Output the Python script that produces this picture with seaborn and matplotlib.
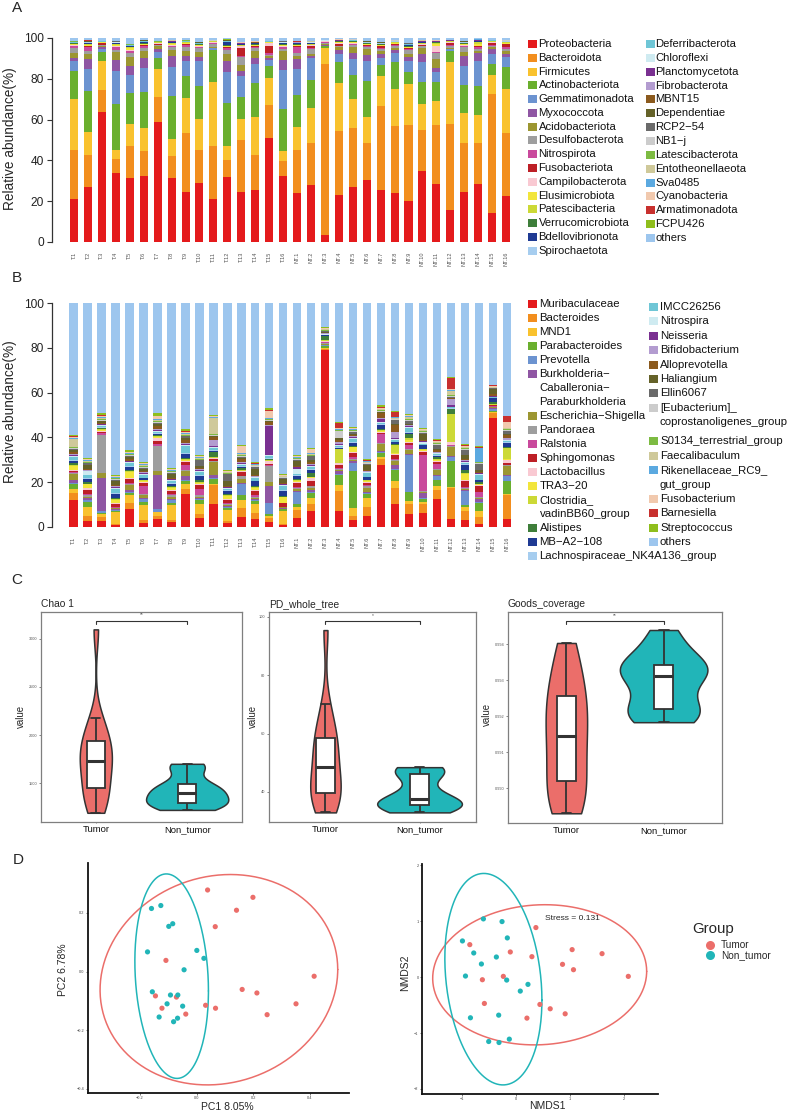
import numpy as np
import pandas as pd
import matplotlib
matplotlib.use("Agg")
import matplotlib.pyplot as plt
import seaborn as sns
from matplotlib.patches import Rectangle
from matplotlib.lines import Line2D

# ====================== DATA ======================
samples = ["T.1", "T.2", "T.3", "T.4", "T.5", "T.6", "T.7", "T.8", "T.9", "T.10", "T.11", "T.12",
           "T.13", "T.14", "T.15", "T.16", "NT.1", "NT.2", "NT.3", "NT.4", "NT.5", "NT.6", "NT.7",
           "NT.8", "NT.9", "NT.10", "NT.11", "NT.12", "NT.13", "NT.14", "NT.15", "NT.16"]

taxa_colors = ["#E41A1C", "#F28E1E", "#F9C22E", "#6AAF2E", "#6C93D0", "#8F56A3", "#9C9631", "#9E9E9E",
               "#C9499C", "#BD1F26", "#F9C9D2", "#F2E53C", "#CCD936", "#3E7E3A", "#1F3A93", "#A6CDEF",
               "#6FC6D6", "#CFEBF1", "#7A3091", "#B39CD0", "#8B5A1E", "#656229", "#6A6A6A", "#CCCCCC",
               "#7DBB42", "#CFC99A", "#5BA9E0", "#F1C9AE", "#C8302E", "#8FBE1C", "#9DC6EE"]

# ---- Panel A: phylum level (%) ----
phylum_labels = ["Proteobacteria", "Bacteroidota", "Firmicutes", "Actinobacteriota", "Gemmatimonadota",
                 "Myxococcota", "Acidobacteriota", "Desulfobacterota", "Nitrospirota", "Fusobacteriota",
                 "Campilobacterota", "Elusimicrobiota", "Patescibacteria", "Verrucomicrobiota",
                 "Bdellovibrionota", "Spirochaetota", "Deferribacterota", "Chloroflexi", "Planctomycetota",
                 "Fibrobacterota", "MBNT15", "Dependentiae", "RCP2\u221254", "NB1\u2212j", "Latescibacterota",
                 "Entotheonellaeota", "Sva0485", "Cyanobacteria", "Armatimonadota", "FCPU426", "others"]

proteobacteria = [21, 27, 63.5, 34, 31.5, 32.5, 59, 31.5, 24.5, 29, 21, 32, 24.5, 25.5, 51, 32.5,
                  24, 28, 3.5, 23, 27, 30.5, 25.5, 24, 20, 35, 28.5, 15.5, 24.5, 28.5, 14, 22.5]
bacteroidota = [24, 15.5, 11, 6.5, 15.5, 12, 12, 10.5, 29, 16, 26, 8, 25.5, 17, 16, 7,
                21, 20.5, 84, 31.5, 29, 18, 41, 33, 37.5, 20, 29, 42.5, 24, 20, 58.5, 31]
firmicutes = [25, 11.5, 14, 4.5, 11, 11.5, 14, 8.5, 17, 15.5, 31.5, 7, 10.5, 19, 13.5, 5,
              11.5, 17, 7.5, 23.5, 14, 13, 15, 18, 20, 12.5, 11.5, 30, 14.5, 14, 9.5, 21.5]
actinobacteriota = [14, 20, 4.5, 22.5, 15, 17.5, 5, 21, 11, 16, 15.5, 21, 10.5, 16.5, 6, 20.5,
                    15.5, 14, 1, 10, 12, 17.5, 5.5, 13, 6, 11, 9.5, 5.5, 14, 14, 5.5, 11]
gemmatimonadota = [4.5, 11, 1.5, 16.5, 9, 12, 3, 14.5, 7, 12, 1, 15.5, 10.5, 9.5, 2.5, 19.5,
                   13, 10.5, 0.3, 4, 7.5, 9.5, 3, 4.5, 5, 9.5, 5, 1, 9.5, 12, 4.5, 4.5]
myxococcota = [1.5, 4.5, 1, 5, 4.5, 4.5, 1.5, 5, 2.5, 2, 0.3, 5, 2.5, 2.5, 1, 4.5,
               4.5, 1, 0.3, 2, 3, 3, 2, 1.5, 2, 4, 2, 0.3, 4.5, 4, 2.5, 1.5]
acidobacteriota = [2.5, 2.5, 0.5, 4, 4, 3.5, 1.5, 3, 2.5, 2.5, 0.3, 3.5, 3, 3.5, 1, 4.5,
                   1.5, 1, 0.5, 1.5, 3, 3, 1.5, 1, 1.5, 3, 4, 0.5, 2, 1, 1, 1.5]
desulfobacterota = [2.5, 1.5, 0.5, 1, 2, 1.5, 0.5, 1.5, 2, 2, 1.5, 2, 3.5, 1.5, 0.5, 1,
                    1.5, 2.5, 0.5, 0.5, 1, 1, 1, 1, 2, 1, 3, 1, 2.5, 1, 0.5, 1]
nitrospirota = [1, 2, 0.3, 1.5, 1, 1, 0.3, 0.5, 1, 0.5, 0.3, 1, 0.5, 0.5, 1, 1,
                3, 0.7, 0.3, 0.3, 0.5, 0.5, 0.5, 0.5, 0.7, 0.3, 0.5, 0.3, 0.5, 1, 0.5, 1]
fusobacteriota = [0.3, 0.5, 0.7, 0.3, 0.3, 0.5, 0.5, 0.3, 0.5, 0.3, 0.3, 0.5, 4, 0.5, 3.5, 0.3,
                  0.5, 1, 0.2, 1, 0.3, 0.5, 1, 0.5, 0.3, 0.3, 0.3, 1, 0.3, 0.5, 1, 1.5]
campilobacterota = [0.3, 0.3, 0.2, 0.3, 0.3, 0.3, 0.2, 0.3, 0.3, 0.3, 0.3, 0.3, 1, 0.3, 1.5, 0.3,
                    0.3, 0.3, 0.2, 0.3, 0.3, 0.3, 0.3, 0.3, 0.3, 0.3, 3, 0.3, 0.3, 0.3, 0.3, 0.3]
elusimicrobiota = [0.3, 0.5, 0.2, 0.5, 1, 0.3, 0.2, 0.5, 0.3, 0.3, 0.2, 0.3, 0.3, 0.3, 0.3, 0.3,
                   0.3, 0.3, 0.1, 0.3, 0.3, 0.3, 0.3, 0.3, 0.3, 0.3, 1, 0.3, 0.3, 1, 0.3, 0.3]
patescibacteria = [0.2, 0.3, 0.1, 0.3, 0.3, 0.2, 0.1, 0.3, 0.2, 0.2, 0.1, 0.2, 0.2, 0.2, 0.2, 0.3,
                   0.2, 0.2, 0.1, 0.2, 0.2, 0.2, 0.2, 0.2, 0.2, 0.2, 0.3, 0.2, 0.2, 0.5, 0.2, 0.2]
verrucomicrobiota = [0.3, 0.2, 0.1, 0.3, 0.2, 0.3, 0.1, 0.3, 0.2, 0.3, 0.1, 0.3, 0.2, 0.3, 0.1, 0.3,
                     0.3, 0.3, 0.1, 0.2, 0.3, 0.2, 0.3, 0.2, 0.3, 0.3, 0.2, 0.1, 0.3, 0.3, 0.2, 0.2]
bdellovibrionota = [0.2, 0.3, 0.1, 0.3, 0.5, 0.5, 0.1, 0.3, 0.2, 0.3, 0.1, 1.5, 0.3, 0.3, 0.1, 0.5,
                    0.3, 0.2, 0.1, 0.2, 0.2, 0.2, 0.2, 0.2, 0.5, 0.3, 0.2, 0.1, 0.3, 0.3, 0.2, 0.2]
spirochaetota = [0.1, 0.2, 0.05, 0.1, 0.1, 0.15, 0.05, 0.1, 0.05, 0.1, 0.05, 0.1, 0.1, 0.1, 0.05, 0.15,
                 0.1, 0.1, 0.05, 0.1, 0.1, 0.1, 0.15, 0.1, 0.1, 0.1, 0.1, 0.05, 0.1, 0.1, 0.05, 0.1]
deferribacterota = [0.1, 0.1, 0.05, 0.1, 0.15, 0.1, 0.05, 0.1, 0.1, 0.1, 0.05, 0.2, 0.1, 0.1, 0.05, 0.1,
                    0.1, 0.15, 0.02, 0.1, 0.1, 0.1, 0.1, 0.1, 0.2, 0.1, 0.1, 0.05, 0.1, 0.15, 0.05, 0.1]
chloroflexi = [0.05, 0.1, 0.03, 0.1, 0.05, 0.1, 0.03, 0.05, 0.05, 0.1, 0.03, 0.1, 0.05, 0.05, 0.03, 0.1,
               0.05, 0.1, 0.02, 0.05, 0.05, 0.1, 0.05, 0.05, 0.1, 0.05, 0.05, 0.03, 0.05, 0.1, 0.03, 0.05]
planctomycetota = [0.1, 0.1, 0.05, 0.15, 0.1, 0.1, 0.05, 0.1, 0.1, 0.1, 0.05, 0.1, 0.1, 0.1, 0.05, 0.15,
                   0.1, 0.1, 0.02, 0.1, 0.1, 0.1, 0.1, 0.1, 0.1, 0.1, 0.1, 0.05, 0.1, 0.1, 0.05, 0.1]
fibrobacterota = [0.05, 0.04, 0.02, 0.05, 0.06, 0.05, 0.02, 0.05, 0.04, 0.05, 0.02, 0.06, 0.05, 0.04, 0.02, 0.05,
                  0.05, 0.04, 0.02, 0.05, 0.06, 0.05, 0.04, 0.05, 0.05, 0.06, 0.05, 0.02, 0.05, 0.04, 0.02, 0.05]
mbnt15 = [0.05, 0.1, 0.02, 0.1, 0.05, 0.1, 0.02, 0.1, 0.05, 0.05, 0.02, 0.1, 0.05, 0.1, 0.02, 0.1,
          0.05, 0.05, 0.02, 0.05, 0.05, 0.1, 0.05, 0.05, 0.05, 0.1, 0.05, 0.02, 0.1, 0.05, 0.02, 0.05]
dependentiae = [0.1, 0.15, 0.02, 0.1, 0.1, 0.1, 0.02, 0.1, 0.05, 0.1, 0.02, 0.1, 0.1, 0.1, 0.02, 0.1,
                0.1, 0.05, 0.02, 0.05, 0.1, 0.05, 0.05, 0.05, 0.1, 0.1, 0.05, 0.02, 0.1, 0.1, 0.02, 0.05]
rcp2_54 = [0.05, 0.06, 0.02, 0.1, 0.05, 0.04, 0.02, 0.05, 0.06, 0.05, 0.02, 0.05, 0.04, 0.05, 0.02, 0.06,
           0.05, 0.04, 0.02, 0.05, 0.06, 0.05, 0.04, 0.05, 0.05, 0.04, 0.06, 0.02, 0.05, 0.05, 0.02, 0.04]
nb1_j = [0.04, 0.05, 0.02, 0.05, 0.04, 0.05, 0.02, 0.06, 0.05, 0.04, 0.02, 0.05, 0.05, 0.04, 0.02, 0.05,
         0.06, 0.05, 0.02, 0.04, 0.05, 0.05, 0.06, 0.04, 0.05, 0.05, 0.04, 0.02, 0.05, 0.06, 0.02, 0.05]
latescibacterota = [0.05, 0.08, 0.02, 0.06, 0.05, 0.07, 0.02, 0.06, 0.05, 0.05, 0.02, 0.08, 0.05, 0.06, 0.02, 0.07,
                    0.05, 0.06, 0.02, 0.05, 0.05, 0.06, 0.05, 0.05, 0.06, 0.05, 0.05, 0.02, 0.06, 0.05, 0.02, 0.05]
entotheonellaeota = [0.04, 0.05, 0.02, 0.05, 0.04, 0.05, 0.02, 0.05, 0.04, 0.05, 0.02, 0.05, 0.04, 0.05, 0.02, 0.05,
                     0.04, 0.05, 0.02, 0.04, 0.05, 0.04, 0.05, 0.04, 0.05, 0.04, 0.05, 0.02, 0.04, 0.05, 0.02, 0.04]
sva0485 = [0.05, 0.06, 0.02, 0.05, 0.08, 0.05, 0.02, 0.06, 0.05, 0.05, 0.02, 0.06, 0.05, 0.05, 0.02, 0.06,
           0.05, 0.05, 0.02, 0.05, 0.05, 0.06, 0.05, 0.05, 0.06, 0.05, 0.05, 0.02, 0.05, 0.06, 0.02, 0.05]
cyanobacteria = [0.05, 0.04, 0.03, 0.05, 0.05, 0.06, 0.03, 0.05, 0.05, 0.04, 0.03, 0.05, 0.08, 0.05, 0.1, 0.05,
                 0.05, 0.05, 0.02, 0.05, 0.04, 0.05, 0.05, 0.05, 0.04, 0.05, 0.1, 0.03, 0.05, 0.05, 0.03, 0.05]
armatimonadota = [0.04, 0.05, 0.02, 0.04, 0.05, 0.04, 0.02, 0.05, 0.04, 0.05, 0.02, 0.04, 0.05, 0.04, 0.02, 0.05,
                  0.04, 0.05, 0.02, 0.04, 0.05, 0.04, 0.05, 0.04, 0.05, 0.04, 0.05, 0.02, 0.04, 0.05, 0.02, 0.04]
fcpu426 = [0.05, 0.06, 0.02, 0.05, 0.06, 0.05, 0.02, 0.05, 0.05, 0.06, 0.02, 0.05, 0.05, 0.06, 0.02, 0.05,
           0.05, 0.06, 0.02, 0.05, 0.05, 0.06, 0.05, 0.05, 0.06, 0.05, 0.05, 0.02, 0.05, 0.06, 0.02, 0.05]

# ---- Panel B: genus level (%) ----
genus_labels = ["Muribaculaceae", "Bacteroides", "MND1", "Parabacteroides", "Prevotella",
                "Burkholderia\u2212\nCaballeronia\u2212\nParaburkholderia", "Escherichia\u2212Shigella",
                "Pandoraea", "Ralstonia", "Sphingomonas", "Lactobacillus", "TRA3\u221220",
                "Clostridia_\nvadinBB60_group", "Alistipes", "MB\u2212A2\u2212108",
                "Lachnospiraceae_NK4A136_group", "IMCC26256", "Nitrospira", "Neisseria", "Bifidobacterium",
                "Alloprevotella", "Haliangium", "Ellin6067", "[Eubacterium]_\ncoprostanoligenes_group",
                "S0134_terrestrial_group", "Faecalibaculum", "Rikenellaceae_RC9_\ngut_group",
                "Fusobacterium", "Barnesiella", "Streptococcus", "others"]

muribaculaceae = [12, 2.5, 2.5, 0.8, 8, 1.5, 3.5, 2, 14.5, 4, 10, 1.5, 4.5, 3.5, 2, 0.7,
                  4, 7, 79, 7, 3, 5, 27.5, 10, 5.5, 6, 12.5, 3.5, 3, 1, 48.5, 3.5]
bacteroides = [3, 2.5, 2, 0.5, 2.5, 1.5, 1.5, 1, 2.5, 1.5, 8.5, 1, 4, 2.5, 2, 0.5,
               3.5, 3, 0.5, 9, 2, 4, 3, 7.5, 4.5, 4, 4, 14, 4, 3.5, 2.5, 10.5]
mnd1 = [1.7, 4, 1, 5.5, 3.5, 6.5, 1.5, 6.5, 2, 4.5, 0.5, 5, 3.5, 4, 1, 6,
        1.5, 3, 0.5, 2.5, 3.5, 4, 0.5, 3, 1.5, 1, 1.5, 0.3, 2, 2.5, 0.5, 0.5]
parabacteroides = [2.5, 2, 0.5, 0.3, 1, 1.5, 0.3, 1, 1.5, 2, 2.5, 1, 2, 1.5, 0.5, 0.5,
                   1, 2, 1, 4.5, 16.5, 1.5, 2, 5, 4, 1.5, 3, 11.5, 0.5, 3.5, 0.5, 6]
prevotella = [0.5, 1, 1, 0.3, 0.5, 1.5, 1, 1.5, 0.5, 0.5, 0.3, 0.5, 5, 0.5, 5, 0.3,
              5.5, 0.5, 0.3, 0.5, 3.5, 0.5, 0.5, 0.5, 16.5, 0.5, 1.5, 2, 6.5, 0.5, 0.5, 2]
burkholderia = [1, 1, 15, 0.3, 1, 0.5, 15.5, 0.5, 1.5, 0.5, 1.5, 0.3, 0.5, 0.5, 7.5, 0.3,
                0.3, 1, 0.2, 1.5, 1, 0.5, 0.5, 1.5, 0.5, 2, 0.5, 0.3, 0.5, 1.5, 0.5, 0.5]
escherichia = [3, 0.5, 2, 0.5, 2, 1, 1.5, 1, 2.5, 0.5, 5.5, 0.5, 2, 0.5, 2, 0.3,
               1, 1, 0.3, 0.5, 0.5, 2, 3, 2, 2, 0.5, 2.5, 4, 0.5, 0.5, 0.5, 4]
pandoraea = [0.5, 0.5, 17, 0.3, 0.5, 0.5, 11.5, 0.5, 0.5, 0.5, 0.5, 0.5, 1, 0.5, 7, 0.2,
             0.5, 0.5, 0.5, 0.5, 0.5, 0.5, 0.5, 0.5, 0.5, 0.5, 0.5, 0.5, 0.5, 0.5, 0.3, 0.5]
ralstonia = [0.3, 0.5, 1, 0.3, 0.5, 3.5, 0.5, 0.5, 2, 3, 0.3, 0.3, 0.3, 0.5, 0.7, 0.2,
             0.3, 0.3, 0.2, 0.3, 0.5, 0.5, 4, 0.5, 1.5, 16, 2, 0.3, 0.3, 2, 0.2, 0.3]
sphingomonas = [0.5, 2, 0.5, 1.5, 2, 1.5, 1.5, 1.5, 1.5, 1.5, 0.5, 1.5, 1.5, 2, 0.5, 1.5,
                2, 2, 0.3, 1.5, 2, 1, 0.5, 1.5, 1, 1.5, 1, 0.3, 2.5, 2.5, 0.3, 0.5]
lactobacillus = [0.5, 1, 0.5, 0.3, 0.5, 0.5, 1.5, 0.3, 0.5, 0.5, 0.5, 0.3, 0.5, 0.5, 1, 0.2,
                 0.5, 1.5, 0.2, 0.5, 0.5, 0.5, 0.5, 0.5, 0.5, 0.5, 0.5, 1, 0.5, 0.5, 0.2, 1.5]
tra3_20 = [1.5, 1.5, 0.5, 1.5, 2.5, 0.5, 0.5, 1, 0.5, 0.5, 0.3, 1.5, 0.3, 1, 0.3, 2.5,
           0.3, 0.3, 0.2, 0.3, 2, 0.5, 0.3, 0.5, 1, 0.3, 0.3, 0.3, 3, 0.5, 0.2, 0.3]
clostridia = [0.5, 0.3, 0.3, 0.3, 0.5, 0.3, 0.3, 0.3, 0.3, 0.3, 0.5, 0.3, 0.3, 0.3, 0.3, 0.2,
              0.3, 0.3, 0.2, 6, 0.3, 0.3, 0.3, 3.5, 0.5, 0.3, 0.3, 12.5, 0.3, 0.3, 0.2, 5]
alistipes = [1, 0.5, 0.3, 0.3, 0.5, 0.3, 0.5, 0.5, 0.3, 1, 2, 0.5, 1, 0.5, 0.3, 0.2,
             0.5, 1.5, 2, 0.3, 0.3, 0.3, 0.5, 0.3, 2, 0.3, 1, 2, 1.5, 0.5, 1, 0.5]
mb_a2_108 = [1, 1.5, 0.3, 2, 1, 0.5, 0.5, 1, 2, 2, 0.5, 1.5, 0.5, 2, 0.3, 2.5,
             1.5, 1.5, 0.2, 0.3, 1.5, 1, 2, 1, 0.5, 1.5, 0.5, 0.3, 2, 1, 1.5, 2]
lachnospiraceae = [0.5, 0.5, 0.3, 0.3, 0.5, 0.2, 0.3, 0.3, 0.3, 0.3, 0.3, 0.3, 0.3, 0.3, 0.3, 0.2,
                   0.3, 0.3, 0.2, 0.3, 0.3, 0.3, 0.3, 0.3, 0.3, 0.3, 0.3, 0.3, 0.3, 0.3, 0.2, 0.3]
imcc26256 = [1, 1.5, 0.5, 2, 1.5, 1.5, 0.5, 1, 3, 1.5, 1, 0.5, 0.5, 1, 1, 2,
             0.5, 1, 0.2, 0.5, 1.5, 1.5, 0.5, 0.5, 2, 0.5, 0.5, 0.3, 0.5, 2, 0.3, 0.5]
nitrospira = [0.5, 1.5, 0.3, 0.5, 0.5, 0.5, 0.5, 0.5, 0.5, 0.5, 0.5, 0.3, 0.5, 0.5, 0.3, 0.5,
              2.5, 0.5, 0.2, 0.5, 0.5, 0.5, 0.5, 0.5, 0.5, 0.5, 0.5, 0.3, 0.5, 0.5, 0.2, 0.3]
neisseria = [0.5, 0.3, 0.3, 0.3, 0.3, 0.3, 0.5, 0.3, 0.5, 0.3, 0.3, 0.3, 0.3, 0.3, 13, 0.2,
             0.5, 0.5, 0.2, 0.5, 0.3, 0.3, 1.5, 0.5, 0.3, 0.5, 0.3, 1, 0.5, 0.3, 0.3, 0.3]
bifidobacterium = [0.5, 0.3, 0.3, 0.3, 0.3, 0.3, 0.5, 0.3, 0.5, 0.3, 3, 0.3, 0.3, 0.3, 0.3, 0.2,
                   0.3, 0.3, 0.2, 1, 0.3, 0.3, 0.3, 3, 0.3, 0.3, 0.3, 2.5, 0.3, 0.3, 0.2, 0.5]
alloprevotella = [1, 0.5, 0.5, 0.5, 0.5, 0.5, 1, 0.5, 1.5, 0.5, 1, 0.5, 1.5, 0.5, 1.5, 0.3,
                  0.5, 1, 0.3, 1, 0.5, 0.5, 2, 3, 0.3, 0.5, 1, 0.3, 0.5, 0.5, 1, 1.5]
haliangium = [1, 1.5, 0.5, 2, 1, 1, 1, 1.5, 1, 1, 0.5, 2, 0.5, 2.5, 0.3, 2,
              2, 1, 0.3, 0.5, 0.5, 2, 0.5, 0.5, 0.3, 2.5, 0.5, 0.3, 2, 0.5, 2, 0.5]
ellin6067 = [0.3, 1, 0.3, 0.5, 0.5, 0.5, 0.5, 0.5, 0.5, 2.5, 0.3, 3, 0.5, 1, 0.3, 0.5,
             0.5, 1.5, 0.3, 0.3, 1, 0.5, 0.3, 1.5, 1.5, 0.5, 1.5, 0.3, 2, 3, 0.3, 1.5]
eubacterium = [0.5, 0.3, 0.3, 0.3, 0.3, 0.3, 0.5, 0.3, 0.3, 0.3, 0.3, 0.3, 0.5, 0.3, 0.3, 0.2,
               0.5, 0.3, 0.2, 3, 0.3, 0.3, 0.3, 0.5, 0.3, 0.5, 0.5, 0.5, 0.5, 0.3, 0.2, 0.5]
s0134 = [0.5, 0.3, 0.5, 0.3, 0.5, 0.5, 0.5, 0.5, 0.5, 0.5, 0.5, 0.3, 0.5, 0.3, 0.3, 0.2,
         0.3, 0.5, 0.2, 0.3, 0.3, 0.3, 0.5, 0.3, 0.5, 0.3, 0.5, 0.3, 0.5, 0.3, 0.2, 0.3]
faecalibaculum = [3.5, 0.3, 0.5, 0.3, 0.3, 0.3, 0.5, 0.3, 0.3, 0.3, 7, 0.3, 0.3, 0.3, 0.3, 0.2,
                  0.3, 0.3, 0.5, 0.3, 0.3, 0.3, 0.3, 0.3, 1, 0.3, 0.3, 2, 0.3, 0.3, 0.2, 0.3]
rikenellaceae = [0.5, 0.5, 0.5, 0.3, 0.3, 0.5, 0.5, 0.3, 0.5, 0.5, 0.5, 0.3, 0.3, 0.3, 0.3, 0.2,
                 0.3, 0.5, 0.2, 0.3, 0.3, 0.3, 0.3, 0.3, 0.3, 0.3, 0.3, 0.3, 0.3, 6, 0.2, 0.3]
fusobacterium = [0.5, 0.3, 0.3, 0.3, 0.3, 0.3, 1, 0.3, 0.5, 0.3, 0.3, 0.3, 3, 0.3, 3, 0.2,
                 0.3, 1.5, 0.2, 0.5, 0.3, 0.3, 0.3, 0.3, 0.3, 0.3, 0.3, 0.3, 0.3, 0.3, 0.2, 2.5]
barnesiella = [0.3, 0.2, 0.3, 0.2, 0.2, 0.2, 0.3, 0.2, 0.3, 0.2, 0.3, 0.2, 0.3, 0.2, 0.5, 0.2,
               0.2, 0.3, 0.2, 2, 0.2, 0.2, 0.3, 2, 0.3, 0.2, 0.3, 5, 0.3, 0.2, 0.5, 2.5]
streptococcus = [0.5, 0.5, 1, 0.5, 1, 0.5, 1, 0.5, 1, 0.5, 0.5, 0.5, 0.5, 0.5, 1, 0.3,
                 0.5, 0.5, 0.3, 0.5, 0.5, 0.5, 1, 0.3, 0.3, 0.5, 0.5, 0.5, 0.5, 0.5, 0.2, 0.3]

# ---- Panel C: alpha diversity ----
groups = ["Tumor", "Non_tumor"]
chao1_tumor = [1190, 1250, 1330, 1420, 1460, 1550, 1650, 1700, 1760, 1800, 1860, 1920, 1990, 2080, 2180, 3100]
chao1_non = [1220, 1240, 1260, 1280, 1300, 1320, 1350, 1380, 1410, 1430, 1460, 1470, 1530, 1650, 1680, 1700]
pd_tumor = [33, 35, 37, 39, 40, 41, 44, 47, 50, 53, 56, 58, 60, 64, 70, 95.5]
pd_non = [33, 34, 34.5, 35, 35.5, 36, 36.5, 37, 38, 39, 42, 46, 47, 47.5, 48, 48.5]
goods_tumor = [0.98930, 0.98945, 0.98965, 0.98990, 0.99030, 0.99060, 0.99100, 0.99130,
               0.99160, 0.99190, 0.99220, 0.99250, 0.99270, 0.99310, 0.99360, 0.99403]
goods_non = [0.99183, 0.99190, 0.99200, 0.99210, 0.99222, 0.99240, 0.99280, 0.99305,
             0.99315, 0.99325, 0.99335, 0.99340, 0.99350, 0.99370, 0.99410, 0.99439]

# ---- Panel D: ordinations ----
pc1_tumor = [0.039, 0.199, 0.141, 0.066, -0.108, 0.415, 0.161, 0.213, -0.145, -0.071, 0.032, 0.067, -0.122, -0.038, 0.351, 0.249]
pc2_tumor = [0.278, 0.253, 0.209, 0.153, 0.038, -0.016, -0.061, -0.073, -0.083, -0.087, -0.115, -0.125, -0.125, -0.145, -0.110, -0.147]
pc1_non = [-0.159, -0.126, -0.098, -0.084, -0.173, 0.001, 0.026, -0.044, -0.156, -0.092, -0.066, -0.104, -0.049, -0.132, -0.067, -0.081]
pc2_non = [0.215, 0.225, 0.154, 0.163, 0.067, 0.072, 0.045, 0.006, -0.069, -0.080, -0.080, -0.110, -0.118, -0.155, -0.159, -0.171]
nmds1_tumor = [0.369, -0.855, -0.105, 0.295, 1.040, 1.594, 0.862, 1.065, 2.080, -0.234, -0.622, -0.585, 0.443, 0.634, 0.911, 0.203]
nmds2_tumor = [0.884, 0.579, 0.448, 0.364, 0.490, 0.418, 0.227, 0.131, 0.012, 0.012, -0.048, -0.472, -0.490, -0.567, -0.657, -0.734]
nmds1_non = [-0.603, -0.258, -0.160, -0.991, -0.782, -0.363, -0.640, -0.935, -0.172, 0.222, 0.080, -0.843, -0.320, -0.123, -0.505, -0.314]
nmds2_non = [1.039, 0.991, 0.699, 0.645, 0.430, 0.358, 0.233, 0.018, -0.054, -0.131, -0.251, -0.728, -0.681, -1.110, -1.152, -1.170]
stress_value = 0.131
pc1_pct, pc2_pct = 8.05, 6.78

group_colors = {"Tumor": "#EB6E6A", "Non_tumor": "#21B5B8"}

# ====================== BUILD TABLES ======================
phylum_series = [proteobacteria, bacteroidota, firmicutes, actinobacteriota, gemmatimonadota, myxococcota,
                 acidobacteriota, desulfobacterota, nitrospirota, fusobacteriota, campilobacterota,
                 elusimicrobiota, patescibacteria, verrucomicrobiota, bdellovibrionota, spirochaetota,
                 deferribacterota, chloroflexi, planctomycetota, fibrobacterota, mbnt15, dependentiae,
                 rcp2_54, nb1_j, latescibacterota, entotheonellaeota, sva0485, cyanobacteria,
                 armatimonadota, fcpu426]
tabA = pd.DataFrame(dict(zip(phylum_labels[:-1], phylum_series)), index=samples)
tabA["others"] = (100 - tabA.sum(axis=1)).clip(lower=0)

genus_series = [muribaculaceae, bacteroides, mnd1, parabacteroides, prevotella, burkholderia, escherichia,
                pandoraea, ralstonia, sphingomonas, lactobacillus, tra3_20, clostridia, alistipes, mb_a2_108,
                lachnospiraceae, imcc26256, nitrospira, neisseria, bifidobacterium, alloprevotella,
                haliangium, ellin6067, eubacterium, s0134, faecalibaculum, rikenellaceae, fusobacterium,
                barnesiella, streptococcus]
tabB = pd.DataFrame(dict(zip(genus_labels[:-1], genus_series)), index=samples)
tabB["others"] = (100 - tabB.sum(axis=1)).clip(lower=0)

# ====================== FIGURE ======================
sns.set_theme(style="white")
plt.rcParams["font.family"] = ["Liberation Sans", "DejaVu Sans"]
plt.rcParams["axes.unicode_minus"] = True

W, H = 789, 1112
fig = plt.figure(figsize=(W / 100, H / 100), dpi=100)
fig.patch.set_facecolor("white")


def fx(x):
    return x / W


def fy(y):
    return 1 - y / H


def rect(l, t, r, b):
    return [fx(l), fy(b), (r - l) / W, (b - t) / H]


def stacked_panel(r, table, xlo, xhi, width):
    ax = fig.add_axes(r)
    x = np.arange(len(table.index))
    bottom = np.zeros(len(x))
    for col, c in zip(table.columns, taxa_colors):
        v = table[col].to_numpy(dtype=float)
        ax.bar(x, v, bottom=bottom, width=width, color=c, linewidth=0)
        bottom += v
    ax.set_xlim(xlo, xhi)
    ax.set_ylim(0, 100)
    for s in ["top", "right", "bottom"]:
        ax.spines[s].set_visible(False)
    ax.spines["left"].set_bounds(0, 100)
    ax.spines["left"].set_color("#333333")
    ax.spines["left"].set_linewidth(0.9)
    ax.set_yticks([0, 20, 40, 60, 80, 100])
    ax.tick_params(axis="y", left=True, length=3.6, width=0.8, labelsize=8.6, pad=2.4,
                   colors="#333333", labelcolor="#222222")
    ax.set_xticks(x)
    ax.set_xticklabels(table.index, rotation=90, fontsize=4, color="#555555")
    ax.tick_params(axis="x", length=0, pad=7)
    ax.set_facecolor("none")
    ax.grid(False)
    return ax


def draw_legend(labels, colors, split, sq_x, txt_x, y0, pitch, fs, gaps=None, sq_w=9, sq_h=8):
    gaps = gaps or {}
    cols = [list(zip(labels[:split], colors[:split])), list(zip(labels[split:], colors[split:]))]
    for c, entries in enumerate(cols):
        y = y0[c]
        for lab, col in entries:
            fig.add_artist(Rectangle((fx(sq_x[c]), fy(y + sq_h / 2)), sq_w / W, sq_h / H,
                                     transform=fig.transFigure, facecolor=col, edgecolor="none"))
            lines = lab.split("\n")
            for k, ln in enumerate(lines):
                fig.text(fx(txt_x[c]), fy(y + k * pitch[c]), ln, ha="left", va="center", fontsize=fs,
                         color="#111111")
            y += len(lines) * pitch[c] + gaps.get(lab, 0)


# ---------- Panel A ----------
stacked_panel(rect(52, 38, 520, 242), tabA, -1.58, 32.0, 0.575)
fig.text(fx(10.5), fy(139), "Relative abundance(%)", rotation=90, ha="center", va="center", fontsize=9.8)
draw_legend(phylum_labels, taxa_colors, 16, [528, 646], [538.5, 655.5], [44, 44], [13.78, 13.86], 8.1)

# ---------- Panel B ----------
stacked_panel(rect(52.3, 303.3, 520, 526.7), tabB, -1.5, 31.93, 0.62)
fig.text(fx(10.5), fy(411.5), "Relative abundance(%)", rotation=90, ha="center", va="center", fontsize=9.8)
draw_legend(genus_labels, taxa_colors, 16, [527.5, 649], [539.5, 660], [304.3, 306.7], [13.98, 14.45], 8.2,
            gaps={"[Eubacterium]_\ncoprostanoligenes_group": 4.5})


# ---------- Panel C ----------
def nrd0_factor(kde):
    xs = np.asarray(kde.dataset).ravel()
    sd = xs.std(ddof=1)
    q75, q25 = np.percentile(xs, [75, 25])
    lo = min(sd, (q75 - q25) / 1.34)
    return 0.9 * lo * len(xs) ** -0.2 / sd


def violin_panel(l, t, r, b, tumor, non, ylim, yticks, ylabels, title, bracket_y, drop, stars,
                 value_x, value_y):
    ax = fig.add_axes(rect(l, t, r, b))
    df = pd.DataFrame({"group": [groups[0]] * len(tumor) + [groups[1]] * len(non),
                       "value": list(tumor) + list(non)})
    sns.violinplot(data=df, x="group", y="value", hue="group", order=groups, hue_order=groups,
                   palette=group_colors, cut=0, inner=None, linewidth=1.1, linecolor="#333333",
                   density_norm="area", common_norm=True, width=0.9, bw_method=nrd0_factor,
                   saturation=1, legend=False, ax=ax)
    sns.boxplot(data=df, x="group", y="value", order=groups, width=0.2, showfliers=False,
                color="white", saturation=1, linecolor="#333333", linewidth=1.3, ax=ax,
                medianprops={"linewidth": 2.2, "color": "#333333"})
    ax.set_xlim(-0.6, 1.6)
    ax.set_ylim(*ylim)
    ax.plot([0, 0, 1, 1], [bracket_y - drop, bracket_y, bracket_y, bracket_y - drop],
            color="#333333", lw=0.8)
    ax.text(0.5, bracket_y + drop * 1.2, stars, ha="center", va="bottom", fontsize=3.5, color="#555555")
    ax.set_yticks(yticks)
    ax.set_yticklabels(ylabels)
    ax.tick_params(axis="y", left=True, length=1.5, width=0.5, labelsize=2.8, pad=1,
                   colors="#555555")
    ax.set_xticks([0, 1])
    ax.set_xticklabels(groups)
    ax.tick_params(axis="x", bottom=True, length=1, width=0.5, labelsize=6.8, pad=1,
                   colors="#555555", labelcolor="#111111")
    ax.set_xlabel("")
    ax.set_ylabel("")
    for s in ax.spines.values():
        s.set_visible(True)
        s.set_color("#7F7F7F")
        s.set_linewidth(0.9)
    ax.grid(False)
    fig.text(fx(l), fy(604.3), title, ha="left", va="center", fontsize=7.4)
    fig.text(fx(value_x), fy(value_y), "value", rotation=90, ha="center", va="center", fontsize=6.9)
    return ax


violin_panel(41, 612, 242, 822, chao1_tumor, chao1_non, (1094, 3281), [1500, 2000, 2500, 3000],
             ["1500", "2000", "2500", "3000"], "Chao 1", 3187, 31, "**", 21, 717)
violin_panel(269, 612, 476, 822, pd_tumor, pd_non, (29.7, 101.7), [40, 60, 80, 100],
             ["40", "60", "80", "100"], "PD_whole_tree", 98.6, 1.0, "*", 253, 717)
violin_panel(508, 612, 722, 823, goods_tumor, goods_non, (0.98903, 0.99489),
             [0.990, 0.991, 0.992, 0.993, 0.994], ["0.990", "0.991", "0.992", "0.993", "0.994"],
             "Goods_coverage", 0.99464, 0.00008, "**", 487, 715)


# ---------- Panel D ----------
F95_2_15 = 3.6823  # qf(0.95, 2, 15), ggplot2 stat_ellipse default (type = "t", n = 16)


def t_ellipse(xv, yv, nu=5, segments=240):
    X = np.column_stack([xv, yv]).astype(float)
    n, p = X.shape
    w = np.ones(n)
    loc = X.mean(axis=0)
    Xc = X - loc
    for _ in range(200):
        w0 = w
        Xc = X - loc
        S = (w[:, None] * Xc).T @ Xc / w.sum()
        Q = np.einsum("ij,jk,ik->i", Xc, np.linalg.inv(S), Xc)
        w = (nu + p) / (nu + Q)
        loc = (w[:, None] * X).sum(axis=0) / w.sum()
        if np.all(np.abs(w - w0) < 1e-6):
            break
    cov = (w[:, None] * Xc).T @ Xc / n
    radius = np.sqrt(2 * F95_2_15)
    ang = np.linspace(0, 2 * np.pi, segments)
    circ = np.column_stack([np.cos(ang), np.sin(ang)])
    L = np.linalg.cholesky(cov)
    pts = loc + radius * circ @ L.T
    return pts[:, 0], pts[:, 1]


def ordination_panel(l, t, r, b, xt, yt, xn, yn, xlim, ylim, xticks, yticks, xlabel, ylabel,
                     xlab_pos, ylab_pos):
    ax = fig.add_axes(rect(l, t, r, b))
    df = pd.DataFrame({"x": list(xt) + list(xn), "y": list(yt) + list(yn),
                       "group": [groups[0]] * len(xt) + [groups[1]] * len(xn)})
    for g, (gx, gy) in zip(groups, [(xt, yt), (xn, yn)]):
        ex, ey = t_ellipse(gx, gy)
        ax.plot(ex, ey, color=group_colors[g], lw=1.1)
    sns.scatterplot(data=df, x="x", y="y", hue="group", hue_order=groups, palette=group_colors,
                    s=14, linewidth=0, legend=False, ax=ax, zorder=3)
    ax.set_xlim(*xlim)
    ax.set_ylim(*ylim)
    ax.set_xticks(xticks)
    ax.set_yticks(yticks)
    ax.set_xlabel("")
    ax.set_ylabel("")
    for s in ["top", "right"]:
        ax.spines[s].set_visible(False)
    for s in ["left", "bottom"]:
        ax.spines[s].set_color("#111111")
        ax.spines[s].set_linewidth(1.3)
    ax.tick_params(axis="both", length=1.5, width=0.5, labelsize=2.8, pad=1, colors="#444444",
                   bottom=True, left=True)
    ax.grid(False)
    fig.text(fx(xlab_pos[0]), fy(xlab_pos[1]), xlabel, ha="center", va="center", fontsize=7.5)
    fig.text(fx(ylab_pos[0]), fy(ylab_pos[1]), ylabel, ha="center", va="center", fontsize=7.5,
             rotation=90)
    return ax


ordination_panel(88, 863, 349, 1093, pc1_tumor, pc2_tumor, pc1_non, pc2_non,
                 (-0.383, 0.538), (-0.414, 0.370), [-0.2, 0.0, 0.2, 0.4], [-0.4, -0.2, 0.0, 0.2],
                 f"PC1 {pc1_pct:.2f}%", f"PC2 {pc2_pct:.2f}%", (227.5, 1106.5), (63.3, 970))
ordination_panel(422, 864, 658, 1094, nmds1_tumor, nmds2_tumor, nmds1_non, nmds2_non,
                 (-1.74, 2.63), (-2.09, 2.02), [-1, 0, 1, 2], [-2, -1, 0, 1, 2],
                 "NMDS1", "NMDS2", (547, 1106), (405, 973))
fig.text(fx(572), fy(919), f"Stress = {stress_value}", ha="center", va="center", fontsize=6.1)

# group legend
fig.text(fx(692.7), fy(929.3), "Group", ha="left", va="center", fontsize=10.8)
for g, yy in zip(groups, [945, 955]):
    fig.add_artist(Line2D([fx(710)], [fy(yy)], transform=fig.transFigure, marker="o", ms=6.5,
                          mfc=group_colors[g], mec="none", ls="none"))
    fig.text(fx(721), fy(yy), g, ha="left", va="center", fontsize=7.2)

# panel letters
for letter, (lx, ly) in zip("ABCD", [(12, 8.3), (11.7, 278.3), (11, 580), (12.7, 860)]):
    fig.text(fx(lx), fy(ly), letter, ha="left", va="center", fontsize=11)

fig.savefig("out.png", dpi=100, facecolor="white")
